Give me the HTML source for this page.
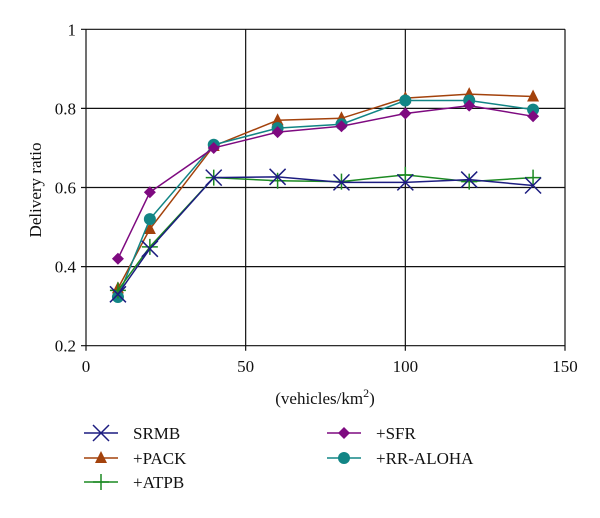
<!DOCTYPE html>
<html><head><meta charset="utf-8"><style>
body{margin:0;background:#fff}
svg text{font-family:"Liberation Serif",serif;fill:#111}
</style></head><body>
<svg width="600" height="513" viewBox="0 0 600 513">
<g id="grid"></g><g id="series"></g><g id="legend"></g>
</svg>
<script>
const xs=[10,20,40,60,80,100,120,140];
const srmb=[0.33,0.445,0.625,0.627,0.613,0.613,0.62,0.605];
const pack=[0.345,0.495,0.705,0.77,0.775,0.826,0.836,0.83];
const atpb=[0.34,0.45,0.625,0.617,0.615,0.632,0.615,0.625];
const sfr=[0.42,0.588,0.70,0.74,0.755,0.787,0.807,0.78];
const rr=[0.323,0.52,0.708,0.75,0.76,0.82,0.82,0.797];
const xTicks=[0,50,100,150];
const yTicks=[0.2,0.4,0.6,0.8,1];
const yTickLabels=["0.2","0.4","0.6","0.8","1"];
const NS="http://www.w3.org/2000/svg";
const X=v=>86+(v/150)*479, Y=v=>345.7-(v-0.2)/0.8*316.4;
function mk(t,a,p){const e=document.createElementNS(NS,t);for(const k in a)e.setAttribute(k,a[k]);p.appendChild(e);return e;}
const g=document.getElementById('grid');
xTicks.forEach(t=>{const l=mk('line',{x1:X(t),x2:X(t),y1:Y(1),y2:Y(0.2)+5,stroke:'#111','stroke-width':1.2},g);


const tx=mk('text',{x:X(t),y:372,'text-anchor':'middle','font-size':17},g);tx.textContent=t;

});
yTicks.forEach((t,i)=>{const l=mk('line',{x1:X(0)-5,x2:X(150),y1:Y(t),y2:Y(t),stroke:'#111','stroke-width':1.2},g);


const tx=mk('text',{x:76,y:Y(t)+6,'text-anchor':'end','font-size':17},g);tx.textContent=yTickLabels[i];

});
let yt=mk('text',{x:0,y:0,'text-anchor':'middle','font-size':17,transform:'translate(41,190) rotate(-90)'},g);yt.textContent='Delivery ratio';


let xt=mk('text',{x:325,y:404,'text-anchor':'middle','font-size':17},g);xt.innerHTML='(vehicles/km<tspan dy="-7" font-size="12">2</tspan><tspan dy="7">)</tspan>';


function marker(type,x,y,c,p){
 if(type==='x'){const s=8;mk('path',{d:`M${x-s} ${y-s}L${x+s} ${y+s}M${x-s} ${y+s}L${x+s} ${y-s}`,stroke:c,'stroke-width':1.5,fill:'none'},p);}
 else if(type==='+'){const s=8;mk('path',{d:`M${x-s} ${y}L${x+s} ${y}M${x} ${y-s}L${x} ${y+s}`,stroke:c,'stroke-width':1.5,fill:'none'},p);}
 else if(type==='tri'){mk('path',{d:`M${x} ${y-7}L${x+6} ${y+5}L${x-6} ${y+5}Z`,fill:c},p);}
 else if(type==='dia'){mk('path',{d:`M${x} ${y-6}L${x+6} ${y}L${x} ${y+6}L${x-6} ${y}Z`,fill:c},p);}
 else mk('circle',{cx:x,cy:y,r:6,fill:c},p);
}
const S=[["SRMB",srmb,'#1c1c80','x'],["+PACK",pack,'#a3420c','tri'],["+ATPB",atpb,'#1c8a22','+'],["+SFR",sfr,'#7e0a80','dia'],["+RR-ALOHA",rr,'#128585','o']];
const sg=document.getElementById('series');
[1,4,3,2,0].forEach(i=>{const [n,d,c,m]=S[i];
 const gr=mk('g',{},sg);
 
 
 mk('polyline',{points:xs.map((x,j)=>X(x)+','+Y(d[j])).join(' '),fill:'none',stroke:c,'stroke-width':1.5},gr);
 xs.forEach((x,j)=>marker(m,X(x),Y(d[j]),c,gr));});
const lg=document.getElementById('legend');
const pos=[[84,433],[84,458],[84,482],[327,433],[327,458]];
S.forEach(([n,d,c,m],i)=>{const [lx,ly]=pos[i];const gr=mk('g',{},lg);
 
 
 mk('line',{x1:lx,x2:lx+34,y1:ly,y2:ly,stroke:c,'stroke-width':1.5},gr);
 marker(m,lx+17,ly,c,gr);
 const t=mk('text',{x:lx+49,y:ly+6,'font-size':17},gr);t.textContent=n;});
</script>
</body></html>
